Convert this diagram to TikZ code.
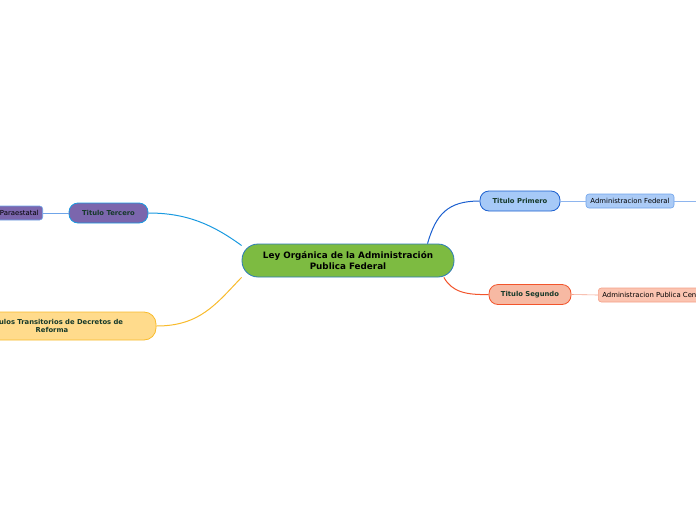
\documentclass[tikz,border=0pt]{standalone}
\usepackage{fontspec}
\setmainfont{DejaVu Sans}
\usepackage{tikz}
\usetikzlibrary{calc}
\definecolor{leygreen}{HTML}{7DBB41}
\definecolor{leyedge}{HTML}{2B7BB9}
\definecolor{titletext}{HTML}{16392A}
\definecolor{primfill}{HTML}{A6C9F7}
\definecolor{primedge}{HTML}{1B5FCF}
\definecolor{fedfill}{HTML}{ABCBF6}
\definecolor{fededge}{HTML}{6EA3EB}
\definecolor{segfill}{HTML}{F7B9A3}
\definecolor{segedge}{HTML}{F2552C}
\definecolor{cenfill}{HTML}{FBC4B1}
\definecolor{cenedge}{HTML}{F5A088}
\definecolor{terfill}{HTML}{7B66AD}
\definecolor{teredge}{HTML}{1A9AE0}
\definecolor{paraedge}{HTML}{6FA5E9}
\definecolor{trafill}{HTML}{FFDB8C}
\definecolor{traedge}{HTML}{F8BB2C}

\begin{document}
\begin{tikzpicture}[x=1pt,y=-1pt,
    main/.style={draw=leyedge,fill=leygreen,line width=.8pt,rounded corners=16pt,minimum width=212pt,minimum height=33pt,inner sep=0pt,align=center,text=black,font=\fontsize{8.8}{10.5}\selectfont\bfseries},
    titulo/.style={line width=.8pt,rounded corners=9pt,minimum height=20pt,inner sep=0pt,text=titletext,font=\fontsize{6.8}{8}\selectfont\bfseries},
    hoja/.style={line width=.6pt,rounded corners=3pt,minimum height=14pt,inner xsep=4pt,inner ysep=0pt,text=black,font=\fontsize{6.9}{8}\selectfont},
    rama/.style={line width=1pt},
    ramita/.style={line width=.6pt}]
    \useasboundingbox (0,0) rectangle (696,520);
    \clip (0,0) rectangle (696,520);
        % centro
        \node[main] (ley) at (348, 260.5) {Ley Orgánica de la Administración\\Publica Federal};
        % titulos
        \node[titulo,draw=primedge,fill=primfill,minimum width=80pt] (prim) at (520, 201) {Titulo Primero};
        \node[titulo,draw=segedge,fill=segfill,minimum width=82pt] (seg) at (530, 294.5) {Titulo Segundo};
        \node[titulo,draw=teredge,fill=terfill,minimum width=79pt] (ter) at (108.5, 213) {Titulo Tercero};
        \node[titulo,draw=traedge,fill=trafill,minimum width=208pt,minimum height=28pt,rounded corners=12pt,align=center] (tra) at (52, 326) {Articulos Transitorios de Decretos de\\Reforma};
        % hojas
        \node[hoja,draw=fededge,fill=fedfill,minimum width=88pt] (fed) at (630, 201) {Administracion Federal};
        \node[hoja,draw=cenedge,fill=cenfill,anchor=west] (cen) at (598, 295) {Administracion Publica Centralizada};
        \node[hoja,draw=paraedge,fill=terfill,anchor=east] (para) at (43, 213) {Administracion Publica Paraestatal};
        \coordinate (fedout) at (720, 201);
        % ramas
        \draw[rama,primedge](ley.12) .. controls (436, 214) and (448, 201) .. (prim.west);
        \draw[rama,segedge](ley.-10.5) .. controls (452, 292) and (466, 295) .. (seg.west);
        \draw[rama,teredge](ley.172.9) .. controls (212, 224) and (186, 213) .. (ter.east);
        \draw[rama,traedge](ley.189.75) .. controls (216, 304) and (200, 326) .. (tra.east);
        \draw[ramita,fedfill!80!primedge](prim.east) -- (fed.west);
        \draw[ramita,fedfill!80!primedge](fed.east) -- (fedout);
        \draw[ramita,cenedge](seg.east) -- (cen.west);
        \draw[ramita,paraedge](ter.west) -- (para.east);
    \end{tikzpicture}
\end{document}
